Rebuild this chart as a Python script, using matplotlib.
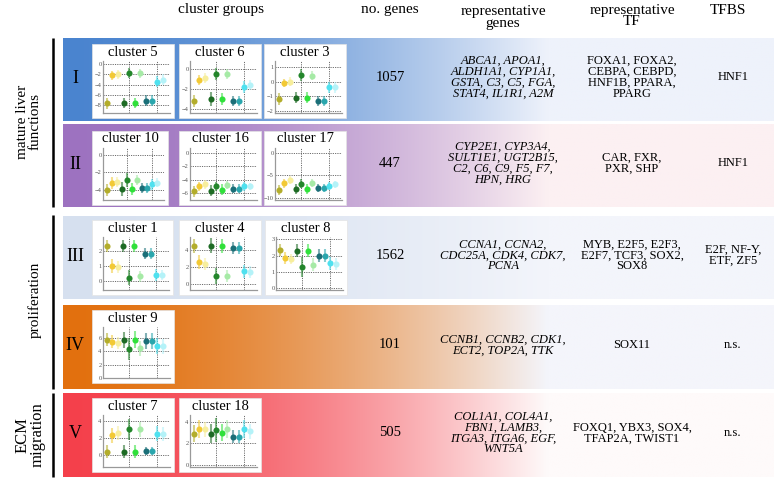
import numpy as np
import matplotlib
matplotlib.use('Agg')
import matplotlib.pyplot as plt
from matplotlib.colors import to_rgb
from matplotlib.patches import Rectangle

plt.rcParams['font.family'] = ['Liberation Serif', 'DejaVu Serif']

W, H = 779, 484

# ---- data ----
row_labels = ['I', 'II', 'III', 'IV', 'V']
n_genes = ['1057', '447', '1562', '101', '505']
rep_genes = [
    'ABCA1, APOA1,\nALDH1A1, CYP1A1,\nGSTA, C3, C5, FGA,\nSTAT4, IL1R1, A2M',
    'CYP2E1, CYP3A4,\nSULT1E1, UGT2B15,\nC2, C6, C9, F5, F7,\nHPN, HRG',
    'CCNA1, CCNA2,\nCDC25A, CDK4, CDK7,\nPCNA',
    'CCNB1, CCNB2, CDK1,\nECT2, TOP2A, TTK',
    'COL1A1, COL4A1,\nFBN1, LAMB3,\nITGA3, ITGA6, EGF,\nWNT5A',
]
rep_tf = [
    'FOXA1, FOXA2,\nCEBPA, CEBPD,\nHNF1B, PPARA,\nPPARG',
    'CAR, FXR,\nPXR, SHP',
    'MYB, E2F5, E2F3,\nE2F7, TCF3, SOX2,\nSOX8',
    'SOX11',
    'FOXQ1, YBX3, SOX4,\nTFAP2A, TWIST1',
]
tfbs = ['HNF1', 'HNF1', 'E2F, NF-Y,\nETF, ZF5', 'n.s.', 'n.s.']
groups = ['mature liver\nfunctions', 'proliferation', 'ECM\nmigration']
row_clusters = [['cluster 5', 'cluster 6', 'cluster 3'],
                ['cluster 10', 'cluster 16', 'cluster 17'],
                ['cluster 1', 'cluster 4', 'cluster 8'],
                ['cluster 9'],
                ['cluster 7', 'cluster 18']]

# 11 samples per cluster plot (mean and error)
sample_pos = [1, 2, 3, 4, 5, 6, 7, 8, 9, 10, 11]

c5_mean = [-7.6, -2.2, -2.0, -7.5, -1.7, -7.5, -1.8, -7.1, -7.1, -3.4, -3.0]
c5_err = [1.1, 0.9, 0.8, 1.0, 1.0, 1.0, 0.9, 1.0, 1.0, 1.1, 1.0]
c5_ticks = [0, -2, -4, -6, -8]

c6_mean = [-3.2, -1.1, -0.9, -3.0, -0.5, -3.0, -0.5, -3.2, -3.2, -1.8, -1.6]
c6_err = [0.6, 0.5, 0.5, 0.7, 0.6, 0.6, 0.5, 0.5, 0.5, 0.6, 0.5]
c6_ticks = [0, -2, -4]

c3_mean = [-1.2, -0.1, 0.0, -1.1, 0.45, -1.1, 0.4, -1.35, -1.35, -0.4, -0.4]
c3_err = [0.4, 0.3, 0.3, 0.4, 0.4, 0.4, 0.3, 0.35, 0.35, 0.4, 0.4]
c3_ticks = [1, 0, -1, -2]

c10_mean = [-4.0, -3.2, -3.1, -3.9, -2.9, -3.9, -2.9, -3.8, -3.8, -3.4, -3.2]
c10_err = [0.7, 0.7, 0.6, 0.8, 0.8, 0.7, 0.6, 0.6, 0.6, 0.6, 0.5]
c10_ticks = [0, -2, -4]

c16_mean = [-5.7, -5.0, -4.7, -5.6, -5.0, -5.5, -4.8, -5.3, -5.3, -5.0, -5.0]
c16_err = [0.8, 0.6, 0.6, 0.8, 0.7, 0.8, 0.6, 0.6, 0.6, 0.6, 0.5]
c16_ticks = [0, -2, -4, -6]

c17_mean = [-8.2, -6.7, -6.0, -8.0, -6.8, -8.0, -6.6, -7.7, -7.7, -7.3, -7.0]
c17_err = [1.0, 1.0, 0.9, 1.1, 1.0, 1.1, 0.9, 0.9, 0.9, 0.9, 0.8]
c17_ticks = [0, -5, -10]

c1_mean = [2.3, 1.0, 0.9, 2.3, 0.2, 2.3, 0.3, 1.8, 1.8, 0.4, 0.4]
c1_err = [0.4, 0.45, 0.4, 0.4, 0.5, 0.4, 0.35, 0.35, 0.35, 0.4, 0.35]
c1_ticks = [0, 1, 2]

c4_mean = [4.5, 2.6, 2.4, 4.5, 1.0, 4.5, 1.0, 4.2, 4.2, 1.5, 1.4]
c4_err = [0.8, 0.8, 0.7, 0.9, 0.9, 0.8, 0.7, 0.7, 0.7, 0.8, 0.7]
c4_ticks = [0, 2, 4]

c8_mean = [2.35, 1.85, 1.8, 2.3, 1.3, 2.3, 1.45, 2.0, 2.0, 1.55, 1.5]
c8_err = [0.35, 0.35, 0.3, 0.4, 0.6, 0.4, 0.4, 0.4, 0.4, 0.4, 0.35]
c8_ticks = [0, 1, 2, 3]

c9_mean = [5.7, 5.4, 5.2, 5.7, 4.3, 5.7, 4.4, 5.5, 5.5, 4.8, 4.7]
c9_err = [1.0, 1.0, 0.9, 1.2, 1.6, 1.3, 1.1, 1.2, 1.2, 1.2, 1.1]
c9_ticks = [0, 2, 4, 6]

c7_mean = [0.4, 2.3, 2.6, 0.4, 3.0, 0.4, 3.0, 0.5, 0.5, 2.5, 2.5]
c7_err = [0.8, 0.9, 0.8, 0.8, 1.2, 0.8, 0.9, 0.5, 0.5, 0.9, 0.8]
c7_ticks = [0, 2, 4]

c18_mean = [2.9, 3.3, 3.3, 2.9, 3.2, 3.0, 3.3, 2.6, 2.6, 3.3, 3.1]
c18_err = [0.8, 0.8, 0.7, 0.9, 1.1, 0.8, 0.8, 0.6, 0.6, 0.8, 0.7]
c18_ticks = [0, 2, 4]

# ---- styles / layout (pixel coordinates) ----
SAMPLE_COLORS = ['#b3ad2b', '#f2c935', '#f7ee9c', '#1d6b24', '#23862b', '#2fe03a',
                 '#a6eaa6', '#1b6f78', '#2aa6ad', '#4fe1ef', '#b4f2f8']

CLUSTER_DATA = {
    'cluster 5': (c5_mean, c5_err, c5_ticks, (-9.5, 0.6)),
    'cluster 6': (c6_mean, c6_err, c6_ticks, (-4.4, 0.8)),
    'cluster 3': (c3_mean, c3_err, c3_ticks, (-2.15, 1.4)),
    'cluster 10': (c10_mean, c10_err, c10_ticks, (-5.2, 0.8)),
    'cluster 16': (c16_mean, c16_err, c16_ticks, (-7.0, 0.7)),
    'cluster 17': (c17_mean, c17_err, c17_ticks, (-10.4, 1.0)),
    'cluster 1': (c1_mean, c1_err, c1_ticks, (-0.6, 2.9)),
    'cluster 4': (c4_mean, c4_err, c4_ticks, (-0.65, 5.5)),
    'cluster 8': (c8_mean, c8_err, c8_ticks, (-0.1, 3.15)),
    'cluster 9': (c9_mean, c9_err, c9_ticks, (0, 7.6)),
    'cluster 7': (c7_mean, c7_err, c7_ticks, (-1.4, 4.7)),
    'cluster 18': (c18_mean, c18_err, c18_ticks, (-0.15, 4.6)),
}

BAND_Y = [(38, 121), (124, 207), (216, 299), (305, 389), (393, 477)]
BAND_X = (63, 774)
BAND_COLORS = [('#4a84cf', '#eef2fb'),
               ('#9d72c0', '#fcf0f2'),
               ('#d6e0ef', '#f3f5fb'),
               ('#e2700e', '#f4f5fb'),
               ('#f4404b', '#fefafa')]
FADE_END = 548

PANEL_X = [[(92, 82), (179, 82), (264, 82)],
           [(92, 76), (179, 82), (264, 82)],
           [(92, 81), (179, 82), (265, 82)],
           [(92, 82)],
           [(92, 82), (179, 82)]]
PANEL_Y = [(44, 118), (131, 205), (220, 295), (310, 383), (398, 472)]

GROUP_BARS = [(38, 207), (215, 389), (393, 477)]
GROUP_LABEL_POS = [(29, 122, 11), (35, 300, 11), (30, 435, 12)]


def fx(px):
    return px / W


def fy(py):
    return 1 - py / H


def draw_band(ax, x0, x1, y0, y1, c_left, c_right):
    xs = np.linspace(x0, x1, 500)
    t = np.clip((xs - x0) / (FADE_END - x0), 0, 1) ** 1.6
    a = np.array(to_rgb(c_left))
    b = np.array(to_rgb(c_right))
    cols = a[None, :] * (1 - t[:, None]) + b[None, :] * t[:, None]
    ax.imshow(cols[None, :, :], extent=(x0, x1, y1, y0), aspect='auto',
              interpolation='bilinear', zorder=0)


def draw_cluster(fig, bg, name, px, pw, py0, py1):
    mean, err, ticks, ylim = CLUSTER_DATA[name]
    bg.add_patch(Rectangle((px, py0), pw, py1 - py0, facecolor='white',
                           edgecolor='#e4e4e4', lw=0.5, zorder=2))
    bg.text(px + pw / 2, py0 + 8, name, ha='center', va='center',
            fontsize=10.5, zorder=3)
    ax = fig.add_axes([fx(px + 11), fy(py1 - 5), (pw - 15) / W,
                       (py1 - py0 - 22) / H])
    ax.set_facecolor('none')
    ax.set_xlim(0.3, 12.3)
    ax.set_ylim(*ylim)
    for v in ticks:
        ax.axhline(v, color='#444444', lw=0.55, ls=(0, (1.5, 1.5)), zorder=1)
    for v in (5, 10):
        ax.axvline(v, color='#444444', lw=0.55, ls=(0, (1.5, 1.5)), zorder=1)
    for x, m, e, c in zip(sample_pos, mean, err, SAMPLE_COLORS):
        ax.vlines(x, m - e, m + e, color=c, lw=1.5, alpha=0.55, zorder=2)
        ax.plot(x, m, 'o', color=c, ms=4.4, mec='none', zorder=3)
    ax.set_yticks(ticks)
    ax.set_yticklabels([str(v) if v >= 0 else '\u2212' + str(-v) for v in ticks],
                       fontsize=4.6, color='#555555')
    ax.set_xticks([])
    ax.tick_params(axis='y', length=0, pad=1)
    for s in ('top', 'right'):
        ax.spines[s].set_visible(False)
    for s in ('left', 'bottom'):
        ax.spines[s].set_color('#999999')
        ax.spines[s].set_linewidth(0.9)


fig = plt.figure(figsize=(W / 100, H / 100), dpi=100)
bg = fig.add_axes([0, 0, 1, 1])
bg.axis('off')

# header
bg.text(221, 9, 'cluster groups', ha='center', va='center', fontsize=11)
bg.text(390, 10, 'no. genes', ha='center', va='center', fontsize=11)
bg.text(503, 17, 'representative\ngenes', ha='center', va='center',
        fontsize=11, linespacing=0.9)
bg.text(632, 16, 'representative\nTF', ha='center', va='center',
        fontsize=11, linespacing=0.8)
bg.text(728, 10, 'TFBS', ha='center', va='center', fontsize=11)

# group bars and labels
for (ya, yb), lab, (lx, ly, fs) in zip(GROUP_BARS, groups, GROUP_LABEL_POS):
    bg.plot([53, 53], [ya, yb], color='black', lw=1.8, solid_capstyle='butt')
    bg.text(lx, ly, lab, rotation=90, ha='center', va='center', fontsize=fs,
            linespacing=0.95)

for i, (y0, y1) in enumerate(BAND_Y):
    draw_band(bg, BAND_X[0], BAND_X[1], y0, y1, *BAND_COLORS[i])
    yc = (y0 + y1) / 2 - 2
    bg.text(75, yc + 1, row_labels[i], ha='center', va='center', fontsize=13)
    bg.text(390, yc, n_genes[i], ha='center', va='center', fontsize=10.5)
    bg.text(503, yc, rep_genes[i], ha='center', va='center', fontsize=9,
            style='italic', linespacing=0.88)
    bg.text(632, yc, rep_tf[i], ha='center', va='center', fontsize=9,
            linespacing=0.88)
    bg.text(733, yc, tfbs[i], ha='center', va='center', fontsize=9,
            linespacing=0.88)
    for name, (px, pw) in zip(row_clusters[i], PANEL_X[i]):
        draw_cluster(fig, bg, name, px, pw, PANEL_Y[i][0], PANEL_Y[i][1])

bg.set_xlim(0, W)
bg.set_ylim(H, 0)

fig.savefig('out.png', dpi=100)
plt.close(fig)
